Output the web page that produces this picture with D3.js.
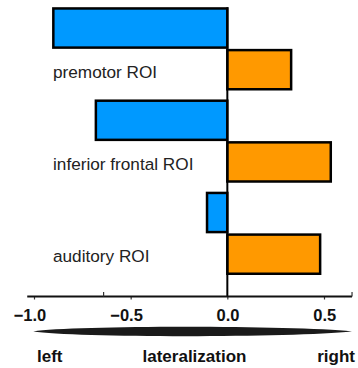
<!DOCTYPE html>
<html><head><meta charset="utf-8">
<script src="https://cdn.jsdelivr.net/npm/d3@7"></script>
<style>
html,body{margin:0;padding:0;background:#fff;}
svg{display:block;font-family:Arial,"Liberation Sans",sans-serif;}
</style></head>
<body>
<svg id="c" width="358" height="368"></svg>
<script>
const categories = ["premotor ROI", "inferior frontal ROI", "auditory ROI"];
const leftValues = [-0.90, -0.68, -0.105];
const rightValues = [0.33, 0.535, 0.48];
const tickValues = [-1.0, -0.5, 0.0, 0.5];
const upTickValues = [-0.64, 0.645];
const axisExtent = [-1.035, 0.645];
const bottomLabels = ["left", "lateralization", "right"];

const svg = d3.select("#c");
const x = d3.scaleLinear().domain([-1, 0.5]).range([34, 324]);
const y = d3.scaleBand().domain(categories).range([7.2, 275]).paddingInner(0.0968).paddingOuter(0);
const half = y.bandwidth() / 2;
const axisY = 296.5;
const blue = "#0099ff", orange = "#ff9900";

// bars
const g = svg.append("g");
categories.forEach((c, i) => {
  const lv = leftValues[i], rv = rightValues[i];
  g.append("rect")
    .attr("x", x(lv)).attr("y", y(c) + 1.25)
    .attr("width", x(0) - x(lv)).attr("height", half - 2.5)
    .attr("fill", blue).attr("stroke", "#000").attr("stroke-width", 2.5);
  g.append("rect")
    .attr("x", x(0)).attr("y", y(c) + half + 1.25)
    .attr("width", x(rv) - x(0)).attr("height", half - 2.5)
    .attr("fill", orange).attr("stroke", "#000").attr("stroke-width", 2.5);
  g.append("text")
    .attr("x", 53).attr("y", y(c) + 70.5)
    .attr("font-size", 17.2).attr("fill", "#222")
    .text(c);
});

// zero line
svg.append("line")
  .attr("x1", x(0)).attr("x2", x(0))
  .attr("y1", y(categories[0])).attr("y2", axisY)
  .attr("stroke", "#000").attr("stroke-width", 2);

// axis
const axis = d3.axisBottom(x).tickValues(tickValues).tickSize(3).tickSizeOuter(0)
  .tickFormat(d3.format(".1f"));
const ag = svg.append("g").attr("transform", `translate(0,${axisY})`).call(axis);
ag.select(".domain").remove();
ag.selectAll(".tick line").attr("stroke", "#333").attr("stroke-width", 1.2);
ag.selectAll(".tick text")
  .attr("y", 24).attr("dy", 0)
  .attr("text-anchor", "end").attr("x", 11.7)
  .attr("font-size", 16.5).attr("font-weight", "bold")
  .attr("font-family", "Arial, 'Liberation Sans', sans-serif").attr("fill", "#111");
ag.append("line")
  .attr("x1", x(axisExtent[0])).attr("x2", x(axisExtent[1]))
  .attr("y1", 0).attr("y2", 0)
  .attr("stroke", "#111").attr("stroke-width", 2);
ag.selectAll(".uptick").data(upTickValues).enter().append("line")
  .attr("x1", d => x(d)).attr("x2", d => x(d))
  .attr("y1", 0).attr("y2", -4.5)
  .attr("stroke", "#333").attr("stroke-width", 1.2);

// lens shape
const lx0 = x(axisExtent[0]) + 6, lx1 = x(axisExtent[1]);
const ly = 331.5;
const lensPath = d3.path();
lensPath.moveTo(lx0, ly);
lensPath.bezierCurveTo(lx0 + 40, ly - 6.2, lx1 - 60, ly - 6.2, lx1, ly);
lensPath.bezierCurveTo(lx1 - 60, ly + 6.2, lx0 + 40, ly + 6.2, lx0, ly);
lensPath.closePath();
svg.append("path").attr("d", lensPath.toString()).attr("fill", "#1a1a1a");

// bottom labels
const bx = [{a: "start", x: 37}, {a: "middle", x: 194.5}, {a: "end", x: 355}];
bottomLabels.forEach((t, i) => {
  svg.append("text")
    .attr("x", bx[i].x).attr("y", 361.5)
    .attr("text-anchor", bx[i].a)
    .attr("font-size", 17).attr("font-weight", "bold").attr("fill", "#111")
    .text(t);
});
</script>
</body></html>
